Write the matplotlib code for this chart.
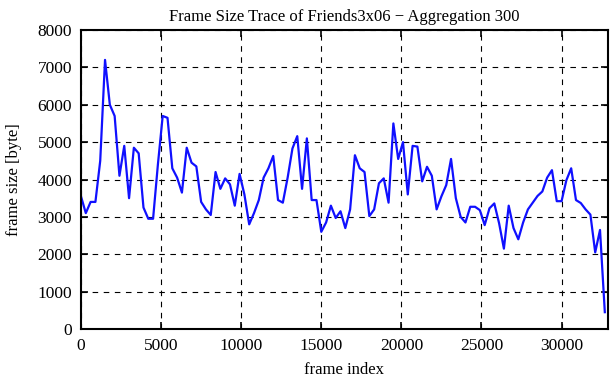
import matplotlib
matplotlib.use("Agg")
import matplotlib.pyplot as plt
import numpy as np

plt.rcParams['font.family'] = ['Liberation Serif', 'DejaVu Serif']

aggregation = 300
frame_sizes = [
    3550, 3100, 3400, 3400, 4500, 7200, 6000, 5700, 4100, 4900,
    3500, 4850, 4700, 3250, 2950, 2950, 4400, 5700, 5650, 4300,
    4050, 3650, 4850, 4450, 4350, 3400, 3200, 3050, 4200, 3750,
    4030, 3870, 3300, 4150, 3600, 2800, 3100, 3450, 4050, 4300,
    4630, 3450, 3380, 4050, 4830, 5160, 3750, 5100, 3450, 3450,
    2600, 2850, 3300, 2970, 3150, 2700, 3200, 4650, 4300, 4200,
    3020, 3200, 3900, 4030, 3380, 5500, 4550, 5000, 3600, 4900,
    4880, 3950, 4340, 4100, 3200, 3550, 3850, 4550, 3500, 3000,
    2850, 3270, 3270, 3180, 2780, 3230, 3360, 2830, 2150, 3300,
    2700, 2400, 2850, 3200, 3380, 3560, 3680, 4050, 4250, 3420,
    3420, 3980, 4300, 3450, 3370, 3200, 3060, 2050, 2650, 450,
]
frame_index = [i * aggregation for i in range(len(frame_sizes))]
x_ticks = [0, 5000, 10000, 15000, 20000, 25000, 30000]
y_ticks = [0, 1000, 2000, 3000, 4000, 5000, 6000, 7000, 8000]

W, H = 611, 380
fig = plt.figure(figsize=(W / 100, H / 100), dpi=100)
ax = fig.add_axes([81 / W, (H - 329) / H, (607.7 - 81) / W, (329 - 30) / H])

ax.plot(frame_index, frame_sizes, color='#1010ff', linewidth=1.6)

ax.set_xlim(0, 32880)
ax.set_ylim(0, 8000)
ax.set_xticks(x_ticks)
ax.set_yticks(y_ticks)
ax.grid(True, color='black', linestyle=(0, (5, 5)), linewidth=0.8)
ax.tick_params(direction='in', length=5, width=1.2, top=True, right=True,
               labelsize=12.5, pad=6.5, colors='black')
for s in ax.spines.values():
    s.set_linewidth(1.5)

ax.set_title('Frame Size Trace of Friends3x06 \u2212 Aggregation 300', fontsize=12, pad=6.5)
ax.set_xlabel('frame index', fontsize=12, labelpad=6)
ax.set_ylabel('frame size [byte]', fontsize=12, labelpad=11)

fig.savefig('out.png', dpi=100)
